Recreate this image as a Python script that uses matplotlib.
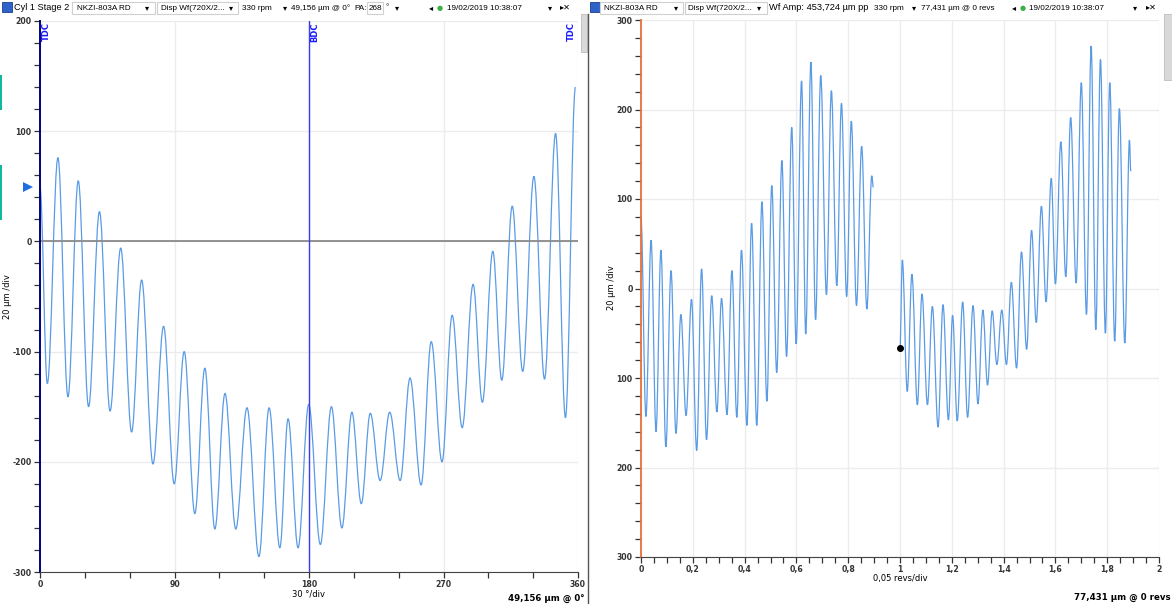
import matplotlib
matplotlib.use("Agg")
import matplotlib.pyplot as plt
from matplotlib.patches import Rectangle, PathPatch
from matplotlib.path import Path
from matplotlib.ticker import MultipleLocator, FuncFormatter

plt.rcParams["axes.unicode_minus"] = False

# ---- left panel: crank-angle waveform (extrema) ----
left_deg = [0, 4.9, 12, 18.7, 25.6, 32.5, 39.8, 46.9, 54, 61.3, 68, 75.6, 82.7, 89.8,
            96.5, 103.6, 110.3, 117, 123.8, 131, 138.5, 146.5, 153.3, 160.5, 166,
            172.7, 179.8, 187.6, 195, 202, 208.7, 215, 221, 227.6, 234, 241, 247.6,
            255, 261.8, 269, 275.8, 282.5, 289.8, 296, 303, 309, 316, 323, 330.5,
            337.6, 345, 351.6, 358.3]
left_um = [49, -129, 76, -141, 55, -150, 27, -154, -6, -173, -35, -202, -77, -220,
           -100, -247, -115, -261, -138, -261, -151, -286, -151, -278, -161,
           -278, -148, -275, -150, -260, -155, -238, -156, -217, -155, -217, -124,
           -221, -91, -200, -67, -169, -39, -146, -9, -126, 32, -118, 59,
           -125, 98, -160, 140]

# ---- right panel: two revolutions ----
rev1_x = [0, 0.019, 0.039, 0.058, 0.077, 0.096, 0.116, 0.135, 0.154, 0.174, 0.195,
          0.215, 0.234, 0.253, 0.273, 0.293, 0.311, 0.332, 0.351, 0.370, 0.388,
          0.409, 0.427, 0.447, 0.467, 0.486, 0.505, 0.524, 0.544, 0.562, 0.582,
          0.599, 0.620, 0.636, 0.656, 0.674, 0.694, 0.716, 0.735, 0.756, 0.774,
          0.794, 0.812, 0.832, 0.852, 0.872, 0.891, 0.897]
rev1_um = [78, -143, 54, -160, 43, -177, 20, -162, -29, -142, -12,
           -181, 22, -169, -8, -138, -11, -141, 20, -144, 43,
           -153, 73, -153, 97, -126, 115, -94, 143, -76, 180,
           -62, 232, -51, 253, -35, 238, -7, 221, 3, 207,
           -9, 187, -19, 159, -23, 126, 113]
rev2_x = [1.0, 1.009, 1.028, 1.046, 1.067, 1.085, 1.106, 1.125, 1.147, 1.166, 1.187,
          1.203, 1.221, 1.242, 1.261, 1.282, 1.301, 1.320, 1.338, 1.356, 1.374,
          1.393, 1.411, 1.430, 1.450, 1.469, 1.489, 1.508, 1.526, 1.546, 1.564,
          1.584, 1.600, 1.621, 1.640, 1.659, 1.680, 1.700, 1.720, 1.738, 1.756,
          1.774, 1.793, 1.810, 1.829, 1.847, 1.868, 1.886, 1.891]
rev2_um = [-66, 32, -115, 16, -130, -6, -130, -20, -155, -18, -147,
           -30, -148, -15, -144, -19, -129, -24, -108, -25, -85,
           -24, -85, 7, -89, 41, -68, 65, -38, 92, -15,
           123, 5, 164, 13, 191, 6, 230, -29, 271, -46,
           256, -50, 230, -59, 201, -61, 166, 131]

left_ticks = [0, 90, 180, 270, 360]
right_ticks = [0, 0.2, 0.4, 0.6, 0.8, 1.0, 1.2, 1.4, 1.6, 1.8, 2.0]

W, H = 1172, 604
wave = "#5a9be6"
grid_c = "#ececec"
tick_c = "#333333"

fig = plt.figure(figsize=(W / 100, H / 100), dpi=100)


def px(x, y):
    return x / W, 1 - y / H


def wave_path(ax, xs, ys):
    # smooth trace: cubic segments with flat tangents at each read peak/trough
    verts = [(xs[0], ys[0])]
    codes = [Path.MOVETO]
    for (x0, y0), (x1, y1) in zip(zip(xs[:-1], ys[:-1]), zip(xs[1:], ys[1:])):
        d = (x1 - x0) * 0.364
        verts += [(x0 + d, y0), (x1 - d, y1), (x1, y1)]
        codes += [Path.CURVE4] * 3
    ax.add_patch(PathPatch(Path(verts, codes), fill=False, ec=wave, lw=0.9))


def style_axis(ax):
    for s in ("top", "right"):
        ax.spines[s].set_visible(False)
    ax.tick_params(which="both", direction="out", length=4, width=0.9,
                   colors=tick_c, labelsize=5.6, pad=2)
    for lab in ax.get_xticklabels() + ax.get_yticklabels():
        lab.set_fontweight("bold")
    ax.grid(True, which="major", color=grid_c, lw=1)
    ax.set_axisbelow(True)


# ---------- left panel ----------
axL = fig.add_axes([40 / W, 1 - 572 / H, 538 / W, 551 / H])
wave_path(axL, left_deg, left_um)
axL.set_xlim(0, 360)
axL.set_ylim(-300, 200)
axL.set_xticks(left_ticks)
axL.xaxis.set_minor_locator(MultipleLocator(30))
axL.yaxis.set_major_locator(MultipleLocator(100))
axL.yaxis.set_minor_locator(MultipleLocator(20))
style_axis(axL)
axL.spines["left"].set_color("#00007a")
axL.spines["left"].set_linewidth(1.4)
axL.spines["bottom"].set_color("#444444")
axL.axhline(0, color="#8a8a8a", lw=1.3)
axL.axvline(180, color="#3a3af0", lw=1)
axL.set_xlabel("30 °/div", fontsize=6, labelpad=0)
for xd, lab in [(0, "TDC"), (180, "BDC"), (360, "TDC")]:
    axL.annotate(lab, (xd, 200), xytext=(-5 if xd == 360 else 4.5, -1),
                 textcoords="offset points", rotation=90, ha="center", va="top",
                 fontsize=6, color="#1a1aff", fontweight="bold")
axL.plot([0], [49], marker=">", color="#1f6fe0", ms=7, clip_on=False,
         markeredgewidth=0)
axL.lines[-1].set_xdata([-8])
fig.text(7 / W, 1 - 297 / H, "20 µm /div", rotation=90, fontsize=6,
         ha="center", va="center")

# ---------- right panel ----------
axR = fig.add_axes([641 / W, 1 - 557 / H, 518 / W, 537 / H])
wave_path(axR, rev1_x, rev1_um)
wave_path(axR, rev2_x, rev2_um)
axR.plot([1.0], [-66], "o", color="black", ms=4)
axR.set_xlim(0, 2)
axR.set_ylim(-300, 300)
axR.set_xticks(right_ticks)
axR.xaxis.set_major_formatter(FuncFormatter(lambda v, p: f"{v:g}".replace(".", ",")))
axR.xaxis.set_minor_locator(MultipleLocator(0.05))
axR.yaxis.set_major_locator(MultipleLocator(100))
axR.yaxis.set_minor_locator(MultipleLocator(20))
axR.yaxis.set_major_formatter(FuncFormatter(lambda v, p: f"{abs(v):.0f}"))
style_axis(axR)
axR.spines["left"].set_color("#e8703a")
axR.spines["left"].set_linewidth(1.3)
axR.spines["bottom"].set_color("#444444")
axR.set_xlabel("0,05 revs/div", fontsize=6, labelpad=0)
fig.text(612 / W, 1 - 288 / H, "20 µm /div", rotation=90, fontsize=6,
         ha="center", va="center")

# ---------- header bars and screen chrome ----------
hdr = 5.9
fy = 1 - 8 / H


def box(x0, x1):
    fig.add_artist(Rectangle(px(x0, 14), (x1 - x0) / W, 12 / H, transform=fig.transFigure,
                             fill=False, ec="#d0d0d0", lw=0.8))


def icon(x):
    fig.add_artist(Rectangle(px(x, 12), 10 / W, 10 / H, transform=fig.transFigure,
                             fc="#2f62c8", ec="#1a3f8f", lw=0.6))


def htext(x, s, size=hdr, **kw):
    kw.setdefault("family", ["Liberation Sans", "DejaVu Sans"])
    fig.text(x / W, fy, s, fontsize=size, va="center", **kw)


icon(2)
htext(14, "Cyl 1 Stage 2", 6.6)
box(72, 155)
htext(77, "NKZI-803A RD")
htext(145, "▾", family="DejaVu Sans")
box(157, 238)
htext(161, "Disp Wf(720X/2...")
htext(229, "▾", family="DejaVu Sans")
htext(242, "330 rpm")
htext(283, "▾", family="DejaVu Sans")
htext(291, "49,156 µm @ 0°")
htext(354, "PA:")
box(367, 383)
htext(369, "268")
htext(386, "°")
htext(395, "▾", family="DejaVu Sans")
htext(429, "◂", family="DejaVu Sans")
htext(437, "●", 5, color="#3cb043", family="DejaVu Sans")
htext(447, "19/02/2019 10:38:07")
htext(548, "▾", family="DejaVu Sans")
htext(560, "▸✕", family="DejaVu Sans")

icon(590)
box(600, 683)
htext(604, "NKZI-803A RD")
htext(674, "▾", family="DejaVu Sans")
box(685, 767)
htext(688, "Disp Wf(720X/2...")
htext(757, "▾", family="DejaVu Sans")
htext(769, "Wf Amp: 453,724 µm pp", 6.7)
htext(874, "330 rpm")
htext(912, "▾", family="DejaVu Sans")
htext(921, "77,431 µm @ 0 revs")
htext(1012, "◂", family="DejaVu Sans")
htext(1020, "●", 5, color="#3cb043", family="DejaVu Sans")
htext(1029, "19/02/2019 10:38:07")
htext(1133, "▾", family="DejaVu Sans")
htext(1146, "▸✕", family="DejaVu Sans")

# bottom readouts
fig.text(585 / W, 1 - 598 / H, "49,156 µm @ 0°", fontsize=6.2, fontweight="bold",
         ha="right", va="center")
fig.text(1171 / W, 1 - 597 / H, "77,431 µm @ 0 revs", fontsize=6.2, fontweight="bold",
         ha="right", va="center")

# panel divider and scrollbars
fig.add_artist(plt.Line2D([588 / W, 588 / W], [0, 1 - 14 / H], transform=fig.transFigure,
                          color="#555555", lw=1))
fig.add_artist(Rectangle(px(581, 52), 6 / W, 38 / H, transform=fig.transFigure,
                         fc="#d9d9d9", ec="#bdbdbd", lw=0.6))
fig.add_artist(Rectangle(px(1164, 80), 8 / W, 66 / H, transform=fig.transFigure,
                         fc="#d9d9d9", ec="#bdbdbd", lw=0.6))
# left edge window artefacts
for y0, y1 in [(75, 110), (165, 220)]:
    fig.add_artist(Rectangle(px(0, y1), 2 / W, (y1 - y0) / H, transform=fig.transFigure,
                             fc="#10b8a0", ec="none"))

fig.savefig("out.png", dpi=100)
